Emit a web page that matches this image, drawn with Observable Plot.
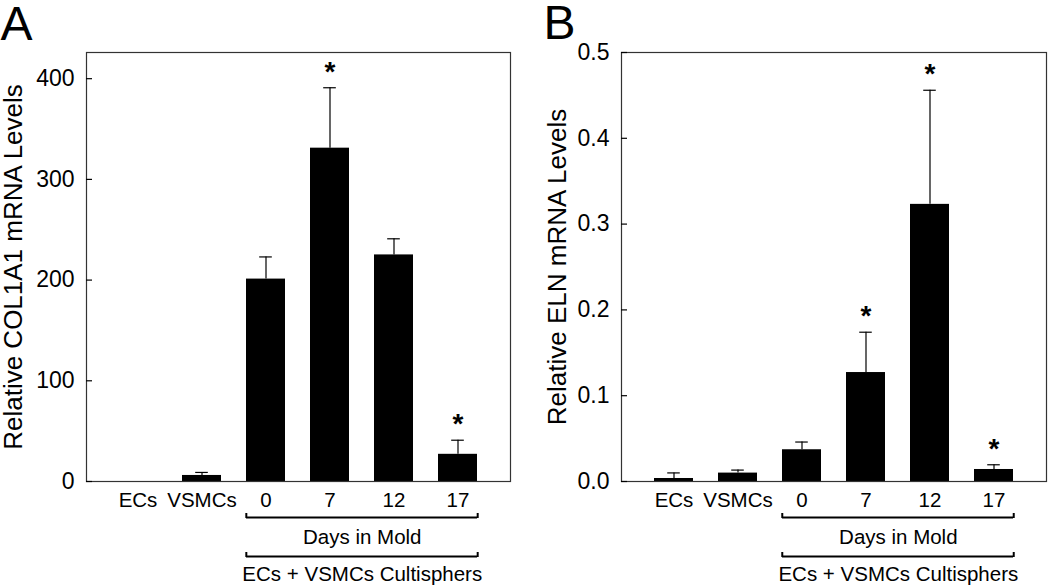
<!DOCTYPE html>
<html>
<head>
<meta charset="utf-8">
<script src="https://cdn.jsdelivr.net/npm/d3@7"></script>
<script src="https://cdn.jsdelivr.net/npm/@observablehq/plot@0.6"></script>
<style>
  html, body { margin: 0; padding: 0; background: #fff; }
  #chart { display: flex; width: 1050px; height: 586px; }
  #chart svg { display: block; }
</style>
</head>
<body>
<div id="chart"></div>
<script>
const categories = ["ECs", "VSMCs", "0", "7", "12", "17"];
const col1a1Mean = [0, 6, 201, 331, 225, 27];
const col1a1Err  = [0, 3, 22, 60, 16, 14];
const col1a1Sig  = [false, false, false, true, false, true];
const elnMean = [0.0035, 0.0098, 0.037, 0.127, 0.323, 0.014];
const elnErr  = [0.0065, 0.0035, 0.009, 0.047, 0.133, 0.0055];
const elnSig  = [false, false, false, true, true, true];
const yTicksA = [0, 100, 200, 300, 400];
const yTicksB = [0, 0.1, 0.2, 0.3, 0.4, 0.5];
const groupLabel = "Days in Mold";
const outerLabel = "ECs + VSMCs Cultisphers";

const FONT = "Liberation Sans, Arial, Helvetica, sans-serif";

function panel({letter, yLabel, mean, err, sig, yDomain, yTicks, yFormat, marginLeft, marginRight, letterDx, letterDy, labelDx}) {
  const W = 525, H = 586, marginTop = 52, marginBottom = 105;
  const data = categories.map((c, i) => ({cat: c, v: mean[i], e: err[i], sig: sig[i]}));
  const xs = Plot.scale({x: {type: "band", domain: categories, range: [marginLeft, W - marginRight], paddingInner: 0.39, paddingOuter: 0.48}});
  const bw = xs.bandwidth;
  const step = xs.step;
  const capW = 13;
  return Plot.plot({
    width: W, height: H, marginLeft, marginRight, marginTop, marginBottom,
    style: {fontFamily: FONT, background: "white", color: "black"},
    x: {type: "band", domain: categories, paddingInner: 0.39, paddingOuter: 0.48},
    y: {domain: yDomain},
    marks: [
      Plot.barY(data, {x: "cat", y: "v", fill: "black"}),
      Plot.ruleX(data.filter(d => d.e > 0), {x: "cat", y1: "v", y2: d => d.v + d.e, stroke: "black", strokeWidth: 1.2}),
      Plot.tickY(data.filter(d => d.e > 0), {x: "cat", y: d => d.v + d.e, stroke: "black", strokeWidth: 1.2, insetLeft: (bw - capW) / 2, insetRight: (bw - capW) / 2}),
      Plot.text(data.filter(d => d.sig), {x: "cat", y: d => d.v + d.e, text: () => "*", fontSize: 28, fontWeight: "bold", lineAnchor: "bottom", dy: -7, fill: "black"}),
      Plot.frame({stroke: "#333", strokeWidth: 1.2}),
      Plot.axisY({ticks: yTicks, tickFormat: yFormat, tickSize: -6, tickPadding: 18, fontSize: 23, label: null, strokeWidth: 1.2}),
      Plot.axisX({tickSize: 0, tickPadding: 11, fontSize: 20.5, label: null}),
      // y-axis title
      Plot.text([yLabel], {frameAnchor: "left", textAnchor: "middle", rotate: -90, dx: labelDx, lineAnchor: "top", fontSize: 26, fill: "black"}),
      // brackets
      Plot.ruleY([0], {x1: () => "0", x2: () => "17", dy: 36, strokeWidth: 2, stroke: "black"}),
      Plot.ruleX(["0"], {x: d => d, y1: () => 0, y2: () => 0, dy: 37, dx: -bw / 2, insetTop: -5, strokeWidth: 2, stroke: "black"}),
      Plot.ruleX(["17"], {x: d => d, y1: () => 0, y2: () => 0, dy: 37, dx: bw / 2, insetTop: -5, strokeWidth: 2, stroke: "black"}),
      Plot.text([groupLabel], {x: () => "7", y: () => 0, dx: step / 2, dy: 62.6, lineAnchor: "bottom", fontSize: 20.5, fill: "black"}),
      Plot.ruleY([0], {x1: () => "0", x2: () => "17", dy: 75, strokeWidth: 2, stroke: "black"}),
      Plot.ruleX(["0"], {x: d => d, y1: () => 0, y2: () => 0, dy: 76, dx: -bw / 2, insetTop: -5, strokeWidth: 2, stroke: "black"}),
      Plot.ruleX(["17"], {x: d => d, y1: () => 0, y2: () => 0, dy: 76, dx: bw / 2, insetTop: -5, strokeWidth: 2, stroke: "black"}),
      Plot.text([outerLabel], {x: () => "7", y: () => 0, dx: step / 2, dy: 99.5, lineAnchor: "bottom", fontSize: 20.5, fill: "black"}),
      // panel letter
      Plot.text([letter], {frameAnchor: "top-left", textAnchor: "start", lineAnchor: "bottom", dx: letterDx, dy: letterDy, fontSize: 48, fill: "black"})
    ]
  });
}

const chart = document.getElementById("chart");
chart.append(panel({
  letter: "A", yLabel: "Relative COL1A1 mRNA Levels",
  mean: col1a1Mean, err: col1a1Err, sig: col1a1Sig,
  yDomain: [0, 426], yTicks: yTicksA, yFormat: d3.format("d"),
  marginLeft: 86, marginRight: 15, letterDx: -86, letterDy: -13, labelDx: -83
}));
chart.append(panel({
  letter: "B", yLabel: "Relative ELN mRNA Levels",
  mean: elnMean, err: elnErr, sig: elnSig,
  yDomain: [0, 0.5], yTicks: yTicksB, yFormat: d3.format(".1f"),
  marginLeft: 96, marginRight: 4, letterDx: -78, letterDy: -14, labelDx: -74
}));
</script>
</body>
</html>
